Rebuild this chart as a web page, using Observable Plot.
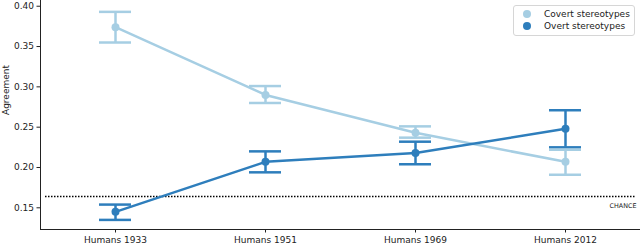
<!DOCTYPE html>
<html>
<head>
<meta charset="utf-8">
<script src="https://cdn.jsdelivr.net/npm/d3@7"></script>
<script src="https://cdn.jsdelivr.net/npm/@observablehq/plot@0.6"></script>
<style>
  html, body { margin: 0; padding: 0; background: #fff; }
  #wrap { position: relative; width: 640px; height: 243px; overflow: hidden; font-family: "DejaVu Sans", sans-serif; }
  #legend { position: absolute; left: 513px; top: 5px; width: 120px; height: 29px; border: 1px solid #d6d6d6; border-radius: 3px; background: rgba(255,255,255,0.8); font-size: 9px; color: #222; }
  .item { position: absolute; left: 0; height: 12px; line-height: 12px; }
  .sw { position: absolute; left: 9px; top: 2px; width: 8px; height: 8px; border-radius: 50%; }
  .lab { position: absolute; left: 30px; top: 0; white-space: nowrap; }
</style>
</head>
<body>
<div id="wrap">
  <div id="chart"></div>
  <div id="legend"></div>
</div>
<script>
const categories = ["Humans 1933", "Humans 1951", "Humans 1969", "Humans 2012"];
const seriesNames = ["Covert stereotypes", "Overt stereotypes"];
const seriesColors = ["#a6cee3", "#2e7ebc"];
const covertMean = [0.374, 0.290, 0.243, 0.207];
const covertLow  = [0.355, 0.280, 0.237, 0.191];
const covertHigh = [0.393, 0.301, 0.251, 0.222];
const overtMean  = [0.145, 0.207, 0.218, 0.248];
const overtLow   = [0.135, 0.194, 0.204, 0.225];
const overtHigh  = [0.154, 0.220, 0.232, 0.271];
const chance = 0.164;
const yTicks = [0.15, 0.20, 0.25, 0.30, 0.35, 0.40];

const rows = [];
categories.forEach((c, i) => {
  rows.push({cat: c, series: seriesNames[0], mean: covertMean[i], lo: covertLow[i], hi: covertHigh[i]});
});
categories.forEach((c, i) => {
  rows.push({cat: c, series: seriesNames[1], mean: overtMean[i], lo: overtLow[i], hi: overtHigh[i]});
});

const yMin = 0.1231, yMax = 0.4071;
const color = {domain: seriesNames, range: seriesColors};

const plot = Plot.plot({
  width: 640,
  height: 243,
  marginLeft: 40,
  marginRight: 0,
  marginTop: 0,
  marginBottom: 14,
  style: {fontFamily: "DejaVu Sans, sans-serif", fontSize: "9px", color: "#222", background: "#fff"},
  x: {type: "band", domain: categories, paddingInner: 1 - 32 / 150, paddingOuter: (1 - 32 / 150) / 2, label: null},
  y: {domain: [yMin, yMax], label: null},
  color: color,
  marks: [
    Plot.ruleY([chance], {stroke: "#000", strokeWidth: 1.5, strokeDasharray: "1.5,1.5", insetLeft: 5, insetRight: 4}),
    Plot.text(["CHANCE"], {frameAnchor: "right", y: [chance], text: d => d, dx: -4, dy: 9, textAnchor: "end", fontSize: 6.4, fill: "#222"}),
    Plot.ruleX(rows, {x: "cat", y1: "lo", y2: "hi", stroke: "series", strokeWidth: 2.5}),
    Plot.tickY(rows, {x: "cat", y: "lo", stroke: "series", strokeWidth: 2.5}),
    Plot.tickY(rows, {x: "cat", y: "hi", stroke: "series", strokeWidth: 2.5}),
    Plot.line(rows, {x: "cat", y: "mean", z: "series", stroke: "series", strokeWidth: 2.5}),
    Plot.dot(rows, {x: "cat", y: "mean", fill: "series", r: 4}),
    Plot.axisY({ticks: yTicks, tickFormat: d3.format(".2f"), tickSize: 3.5, tickPadding: 3, label: null, fontSize: 9}),
    Plot.axisX({tickSize: 3.5, tickPadding: 3.5, label: null, fontSize: 9}),
    Plot.frame({anchor: "left", stroke: "#222", strokeWidth: 1}),
    Plot.frame({anchor: "bottom", stroke: "#222", strokeWidth: 1}),
    Plot.text(["Agreement"], {frameAnchor: "left", dx: -34, rotate: -90, text: d => d, fontSize: 9, fill: "#222"})
  ]
});
document.getElementById("chart").appendChild(plot);

const legend = document.getElementById("legend");
seriesNames.forEach((name, i) => {
  const item = document.createElement("div");
  item.className = "item";
  item.style.top = (2 + i * 12.4) + "px";
  item.innerHTML = `<span class="sw" style="background:${seriesColors[i]}"></span><span class="lab">${name}</span>`;
  legend.appendChild(item);
});
</script>
</body>
</html>
